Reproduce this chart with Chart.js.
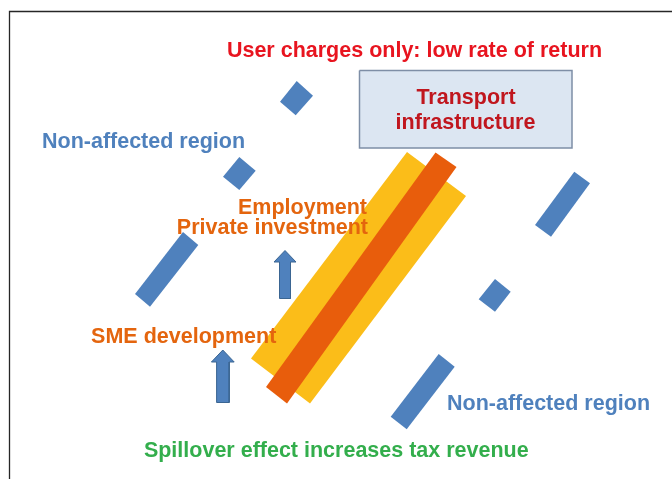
<!DOCTYPE html>
<html>
<head>
<meta charset="utf-8">
<script src="https://cdn.jsdelivr.net/npm/chart.js@4"></script>
<style>
html,body{margin:0;padding:0;background:#fff;}
#wrap{width:672px;height:479px;position:relative;}
</style>
</head>
<body>
<div id="wrap"><canvas id="c"></canvas></div>
<script>
// Diagram drawn in a data space of 0..672 (x) by 0..479 (y, downward)
const frameLine = [[9.5,490],[9.5,11.5],[690,11.5]];

const infraBox = [[359.5,70.5],[572,70.5],[572,148],[359.5,148],[359.5,70.5]];

const yellowBand = [[407,152],[466,196],[310,403.5],[251,358.5]];
const orangeBand = [[435.5,152.5],[456.5,167],[287,403.5],[266,387]];

const regionShapes = [
  [[296.7,81],[313,95.7],[295.7,115.3],[280,101.7]],
  [[239.3,157],[255.7,170.7],[239.3,190],[223,176.7]],
  [[183,232],[198.3,245],[150,306.7],[135,294]],
  [[574.3,171.7],[590,183.3],[551,236.7],[535,225]],
  [[495,279],[510.7,291.7],[495,311.7],[478.7,299.3]],
  [[438.7,354],[454.7,366.7],[406.7,429.3],[390.7,416.7]]
];

const arrowShapes = [
  [[285,250.5],[296,262],[290.5,262],[290.5,298.5],[279.5,298.5],[279.5,262],[274,262],[285,250.5]],
  [[222.8,350],[234.2,362],[229.2,362],[229.2,402.5],[216.6,402.5],[216.6,362],[211.4,362],[222.8,350]]
];

const labelTexts = [
  "User charges only: low rate of return",
  "Transport",
  "infrastructure",
  "Non-affected region",
  "Employment",
  "Private investment",
  "SME development",
  "Non-affected region",
  "Spillover effect increases tax revenue"
];
const labelAnchors = [
  [414.5,56.8],[466,104],[465.5,128.7],[143.5,147.8],[367,214],[368,234],[183.7,342.7],[548.5,410],[336.3,456.7]
];
const labelAligns = ["center","center","center","center","right","right","center","center","center"];
const labelColors = ["#e8141f","#c0161e","#c0161e","#4f81bd","#e4650e","#e4650e","#e4650e","#4f81bd","#33ae4c"];

const toPts = arr => arr.map(p => ({x:p[0], y:p[1]}));

const datasets = [];
datasets.push({data:toPts(frameLine), showLine:true, borderColor:"#262626", borderWidth:1.3, pointRadius:0, fill:false, order:1});
datasets.push({data:toPts(infraBox), showLine:true, borderColor:"#7e8ea6", borderWidth:1.5, backgroundColor:"#dce6f2", pointRadius:0, fill:'shape', order:5});
regionShapes.forEach(s => datasets.push({data:toPts(s), showLine:true, borderWidth:0, borderColor:"rgba(0,0,0,0)", backgroundColor:"#4f81bd", pointRadius:0, fill:'shape', order:6}));
datasets.push({data:toPts(orangeBand), showLine:true, borderWidth:0, borderColor:"rgba(0,0,0,0)", backgroundColor:"#e85d0c", pointRadius:0, fill:'shape', order:7});
datasets.push({data:toPts(yellowBand), showLine:true, borderWidth:0, borderColor:"rgba(0,0,0,0)", backgroundColor:"#fbbd19", pointRadius:0, fill:'shape', order:8});
arrowShapes.forEach(s => datasets.push({data:toPts(s), showLine:true, borderWidth:1, borderColor:"#3a6592", backgroundColor:"#4f81bd", pointRadius:0, fill:'shape', order:4}));

const textPlugin = {
  id:'diagramText',
  afterDatasetsDraw(chart){
    const {ctx, scales:{x, y}} = chart;
    ctx.save();
    ctx.font = "bold 21.5px 'Liberation Sans', Arial, sans-serif";
    ctx.textBaseline = "alphabetic";
    labelTexts.forEach((t,i) => {
      ctx.fillStyle = labelColors[i];
      ctx.textAlign = labelAligns[i];
      ctx.fillText(t, x.getPixelForValue(labelAnchors[i][0]), y.getPixelForValue(labelAnchors[i][1]));
    });
    ctx.restore();
  }
};

new Chart(document.getElementById('c'), {
  type:'scatter',
  data:{datasets},
  options:{
    responsive:true,
    maintainAspectRatio:false,
    animation:false,
    layout:{padding:0},
    plugins:{legend:{display:false}, tooltip:{enabled:false}},
    elements:{line:{tension:0, borderJoinStyle:'miter'}},
    scales:{
      x:{type:'linear', min:0, max:672, display:false},
      y:{type:'linear', min:0, max:479, reverse:true, display:false}
    }
  },
  plugins:[textPlugin]
});
</script>
</body>
</html>
